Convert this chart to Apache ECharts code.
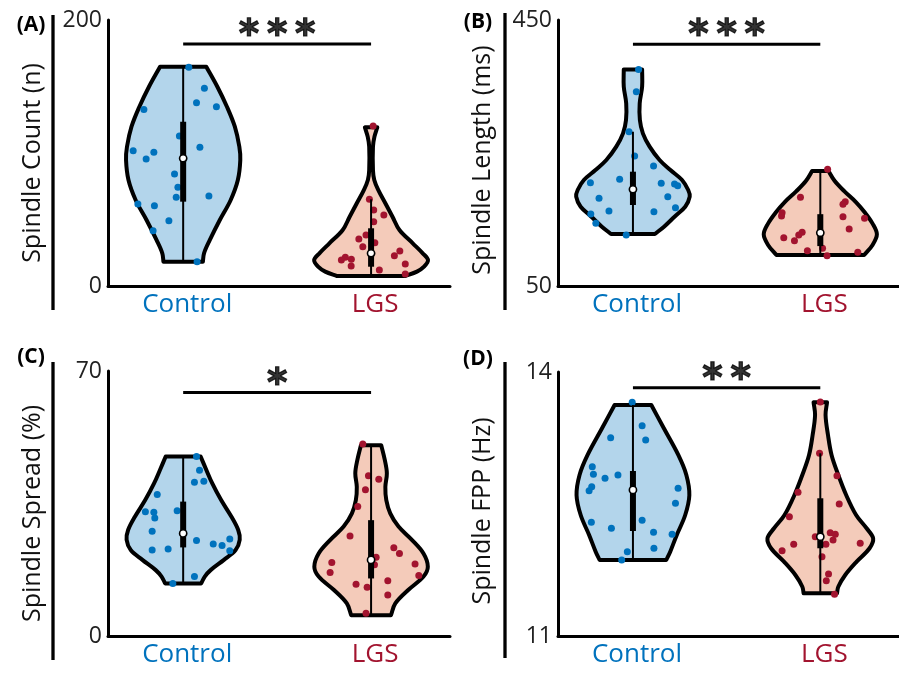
<!DOCTYPE html>
<html>
<head>
<meta charset="utf-8">
<script src="https://cdn.jsdelivr.net/npm/echarts@6/dist/echarts.min.js"></script>
<style>
  html, body { margin: 0; padding: 0; background: #fff; }
  #chart { width: 899px; height: 673px; }
</style>
</head>
<body>
<div id="chart"></div>
<script>
// groups
const groups = ['Control', 'LGS']

// (A) spindle count — violin outline: levels (value) and half widths (category units)
const countCtrlLevels = [164.9, 149.8, 134.8, 119.8, 104.7, 94.7, 79.7, 64.7, 49.6, 34.6, 24.6, 18.3]
const countCtrlHalfW = [0.123, 0.182, 0.233, 0.275, 0.299, 0.304, 0.291, 0.253, 0.195, 0.142, 0.111, 0.105]
const countLgsLevels = [119.3, 112.3, 104.7, 87.2, 79.7, 72.2, 62.2, 52.1, 42.1, 32.1, 24.6, 19.5, 14.5, 10.8, 7.5]
const countLgsHalfW = [0.033, 0.018, 0.010, 0.010, 0.017, 0.038, 0.076, 0.114, 0.151, 0.222, 0.275, 0.303, 0.282, 0.244, 0.181]
// box: whisker low, q1, median, q3, whisker high
const countCtrlBox = [18.3, 63.4, 96, 123.5, 164.9]
const countLgsBox = [7.5, 14.5, 24.6, 43.4, 65.2]
const countCtrlPts = [[1.030, 164.4], [1.113, 148.6], [1.071, 137.8], [1.177, 134.8], [0.791, 132.8], [0.980, 112.8], [1.089, 104.3], [0.734, 101.7], [0.844, 100.5], [0.803, 95.5], [0.954, 84.2], [0.972, 74.2], [0.963, 66.7], [1.137, 67.7], [0.759, 61.7], [0.847, 60.4], [0.924, 49.1], [0.840, 41.6], [1.074, 18.3]]
const countLgsPts = [[2.011, 120.3], [1.991, 65.2], [2.014, 57.1], [2.068, 53.4], [2.014, 48.3], [1.973, 38.3], [1.935, 35.3], [1.956, 29.5], [2.020, 32.6], [2.153, 26.3], [2.124, 22.8], [1.863, 21.6], [1.842, 19.5], [1.895, 20.1], [1.894, 15.0], [2.044, 12.0], [2.182, 16.5], [2.182, 9.0]]

// (B) spindle length
const lengthCtrlLevels = [375.5, 349.7, 324.7, 299.6, 279.6, 259.5, 239.5, 224.4, 209.4, 194.4, 184.3, 169.2, 154.2, 139.2, 128.2]
const lengthCtrlHalfW = [0.049, 0.049, 0.036, 0.037, 0.053, 0.089, 0.142, 0.200, 0.262, 0.295, 0.303, 0.279, 0.222, 0.166, 0.117]
const lengthLgsLevels = [222.9, 208.3, 192.3, 176.2, 160.1, 143.8, 127.7, 111.7, 96.6]
const lengthLgsHalfW = [0.044, 0.076, 0.129, 0.190, 0.239, 0.279, 0.302, 0.279, 0.234]
const lengthCtrlBox = [128.2, 171.8, 195.4, 221.9, 282]
const lengthLgsBox = [96.6, 110, 130, 158, 222.9]
const lengthCtrlPts = [[1.030, 375.5], [1.018, 342.2], [0.979, 282], [1.009, 245.5], [1.110, 230.5], [0.929, 210.4], [0.773, 205.4], [1.151, 204.4], [1.222, 203.4], [1.239, 200.8], [0.819, 181.8], [1.186, 184.3], [0.872, 162.8], [1.112, 161.8], [1.227, 167.8], [0.775, 158.3], [0.802, 144.3], [0.964, 126.7]]
const lengthLgsPts = [[2.039, 225.5], [1.894, 183.4], [2.133, 176.8], [2.121, 172.8], [1.796, 160.2], [1.793, 155.3], [2.121, 154.2], [2.236, 151.8], [2.154, 135.7], [1.903, 130.7], [1.885, 126.7], [1.805, 122.6], [1.862, 118.1], [1.931, 103.1], [2.012, 106.7], [2.036, 95.6], [2.200, 100.6]]

// (C) spindle spread
const spreadCtrlLevels = [47.4, 43.8, 40.3, 35.9, 31.5, 28.0, 25.4, 22.7, 20.1, 17.4, 15.7, 13.9]
const spreadCtrlHalfW = [0.093, 0.124, 0.155, 0.202, 0.257, 0.293, 0.301, 0.279, 0.217, 0.146, 0.115, 0.096]
const spreadLgsLevels = [50.4, 46.5, 43.0, 39.4, 35.9, 32.4, 28.9, 25.4, 21.8, 18.3, 15.7, 12.2, 8.6, 5.5]
const spreadLgsHalfW = [0.054, 0.073, 0.084, 0.076, 0.081, 0.102, 0.146, 0.217, 0.279, 0.302, 0.279, 0.199, 0.129, 0.106]
const spreadCtrlBox = [13.9, 23.4, 27.1, 35.5, 47.4]
const spreadLgsBox = [5.5, 15.2, 20.1, 30.6, 50.4]
const spreadCtrlPts = [[1.071, 47.4], [1.087, 43.8], [1.060, 40.6], [1.110, 40.9], [0.862, 37.4], [0.799, 32.8], [0.844, 32.7], [0.968, 33.1], [0.849, 31.2], [0.835, 27.7], [1.071, 25.2], [1.160, 24.3], [1.207, 23.9], [1.248, 25.6], [0.835, 22.7], [0.920, 23.0], [1.248, 22.5], [1.060, 15.7], [0.945, 13.9]]
const spreadLgsPts = [[1.956, 50.7], [1.986, 42.3], [2.041, 41.4], [1.970, 38.6], [1.929, 34.2], [1.888, 26.4], [2.121, 23.3], [2.151, 21.8], [2.027, 20.8], [2.018, 18.8], [1.791, 19.4], [1.782, 16.8], [2.234, 19.0], [2.254, 16.0], [2.089, 14.6], [1.920, 13.7], [1.979, 12.9], [2.089, 10.8], [1.973, 6.0]]

// (D) spindle FPP
const fppCtrlLevels = [13.625, 13.36, 13.057, 12.83, 12.60, 12.375, 12.148, 11.958, 11.864]
const fppCtrlHalfW = [0.098, 0.165, 0.242, 0.285, 0.301, 0.279, 0.234, 0.199, 0.178]
const fppLgsLevels = [13.656, 13.511, 13.284, 13.057, 12.83, 12.602, 12.375, 12.224, 12.11, 11.997, 11.845, 11.693, 11.56, 11.485]
const fppLgsHalfW = [0.036, 0.028, 0.041, 0.060, 0.096, 0.138, 0.191, 0.247, 0.282, 0.263, 0.194, 0.133, 0.096, 0.089]
const fppCtrlBox = [11.864, 12.193, 12.66, 12.875, 13.625]
const fppLgsBox = [11.485, 11.997, 12.128, 12.565, 13.076]
const fppCtrlPts = [[0.996, 13.656], [1.049, 13.39], [0.881, 13.253], [1.068, 13.227], [0.783, 12.924], [0.789, 12.837], [0.851, 12.792], [0.920, 12.83], [0.780, 12.697], [0.766, 12.651], [1.241, 12.678], [1.227, 12.508], [0.778, 12.292], [0.885, 12.224], [1.049, 12.315], [1.110, 12.178], [1.209, 12.156], [1.112, 11.997], [0.970, 11.958], [0.940, 11.864]]
const fppLgsPts = [[2.0, 13.66], [1.996, 13.076], [2.089, 12.822], [1.881, 12.633], [2.101, 12.5], [1.835, 12.356], [2.053, 12.174], [2.080, 12.156], [1.973, 12.128], [2.068, 12.091], [2.213, 12.053], [1.858, 12.042], [2.030, 12.042], [1.796, 11.97], [2.009, 11.901], [2.044, 11.705], [2.032, 11.629], [2.076, 11.474]]

// axis ranges, titles, significance
const panelLetters = ['(A)', '(B)', '(C)', '(D)']
const yTitles = ['Spindle Count (n)', 'Spindle Length (ms)', 'Spindle Spread (%)', 'Spindle FPP (Hz)']
const yMins = [0, 50, 0, 11]
const yMaxs = [200, 450, 70, 14]
const sigLevels = [182, 413.5, 64.3, 13.82]
const starLevels = [194.7, 439.5, 68.7, 14.01]
const starText = ['***', '***', '*', '**']

const BLUE = '#0072BD'
const RED = '#A2142F'
const BLUE_FILL = '#b3d5eb'
const RED_FILL = '#f4cbba'
const FONT = 'Open Sans'

const grids = [
  { left: 108, top: 20, width: 342, height: 266 },
  { left: 558, top: 20, width: 341, height: 266 },
  { left: 108, top: 371, width: 342, height: 265 },
  { left: 558, top: 372, width: 341, height: 264 },
]

const panelData = [
  [[countCtrlLevels, countCtrlHalfW, countCtrlBox, countCtrlPts], [countLgsLevels, countLgsHalfW, countLgsBox, countLgsPts]],
  [[lengthCtrlLevels, lengthCtrlHalfW, lengthCtrlBox, lengthCtrlPts], [lengthLgsLevels, lengthLgsHalfW, lengthLgsBox, lengthLgsPts]],
  [[spreadCtrlLevels, spreadCtrlHalfW, spreadCtrlBox, spreadCtrlPts], [spreadLgsLevels, spreadLgsHalfW, spreadLgsBox, spreadLgsPts]],
  [[fppCtrlLevels, fppCtrlHalfW, fppCtrlBox, fppCtrlPts], [fppLgsLevels, fppLgsHalfW, fppLgsBox, fppLgsPts]],
]

// violin outline: corners repeated so the flat ends stay sharp while the sides are smoothed
function violinRender(levels, halfW, cx, fill) {
  return (params, api) => {
    if (params.dataIndex !== 0) return
    const n = levels.length
    const right = levels.map((v, k) => api.coord([cx + halfW[k], v]))
    const left = levels.map((v, k) => api.coord([cx - halfW[k], v]))
    const pts = [left[0], right[0], right[0]]
    for (let k = 1; k < n - 1; k++) pts.push(right[k])
    pts.push(right[n - 1], right[n - 1], left[n - 1], left[n - 1])
    for (let k = n - 2; k >= 1; k--) pts.push(left[k])
    pts.push(left[0])
    return {
      type: 'polygon',
      shape: { points: pts, smooth: 0.35 },
      style: { fill, stroke: '#000', lineWidth: 4, lineJoin: 'round' },
    }
  }
}

function boxRender(cx) {
  return (params, api) => {
    const lo = api.coord([cx, api.value(0)])
    const q1 = api.coord([cx, api.value(1)])
    const med = api.coord([cx, api.value(2)])
    const q3 = api.coord([cx, api.value(3)])
    const hi = api.coord([cx, api.value(4)])
    return {
      type: 'group',
      children: [
        { type: 'line', shape: { x1: lo[0], y1: lo[1], x2: hi[0], y2: hi[1] }, style: { stroke: '#000', lineWidth: 2 } },
        { type: 'rect', shape: { x: q3[0] - 3, y: q3[1], width: 6, height: q1[1] - q3[1] }, style: { fill: '#000' } },
        { type: 'circle', shape: { cx: med[0], cy: med[1], r: 3.6 }, style: { fill: '#fff', stroke: '#000', lineWidth: 1.6 } },
      ],
    }
  }
}

const option = {
  backgroundColor: '#fff',
  animation: false,
  grid: grids.map((g) => ({ ...g, outerBoundsMode: 'none', containLabel: false })),
  xAxis: grids.map((g, i) => ({
    type: 'value',
    gridIndex: i,
    min: 0.6,
    max: 2.42,
    axisLine: { show: true, lineStyle: { color: '#000', width: 3 } },
    axisTick: { show: false },
    splitLine: { show: false },
    axisLabel: {
      customValues: [1, 2],
      margin: 6,
      formatter: (v) => (v === 1 ? '{c|' + groups[0] + '}' : '{l|' + groups[1] + '}'),
      rich: {
        c: { color: BLUE, fontSize: 26, fontFamily: FONT, padding: [0, 0, 0, 8] },
        l: { color: RED, fontSize: 26, fontFamily: FONT, padding: [0, 0, 0, 8] },
      },
    },
  })),
  yAxis: grids.map((g, i) => ({
    type: 'value',
    gridIndex: i,
    min: yMins[i],
    max: yMaxs[i],
    name: yTitles[i],
    nameLocation: 'middle',
    nameGap: 63,
    nameTextStyle: { fontSize: 25, fontFamily: FONT, color: '#111', padding: [0, 0, 0, i % 2 === 0 ? -20 : -14] },
    axisLine: { show: true, lineStyle: { color: '#000', width: 3 } },
    axisTick: { show: false },
    splitLine: { show: false },
    axisLabel: {
      customValues: [yMins[i], yMaxs[i]],
      fontSize: 23,
      fontFamily: FONT,
      color: '#222',
      margin: 6,
    },
  })),
  graphic: [],
  series: [],
}

panelData.forEach((pair, i) => {
  pair.forEach(([levels, halfW, box, pts], g) => {
    const cx = g + 1
    option.series.push({
      type: 'custom',
      xAxisIndex: i,
      yAxisIndex: i,
      z: 2,
      silent: true,
      data: levels.map((v, k) => [cx + halfW[k], v]),
      renderItem: violinRender(levels, halfW, cx, g === 0 ? BLUE_FILL : RED_FILL),
    })
    option.series.push({
      type: 'scatter',
      xAxisIndex: i,
      yAxisIndex: i,
      z: 3,
      clip: false,
      symbolSize: 7,
      itemStyle: { color: g === 0 ? BLUE : RED, opacity: 1 },
      data: pts,
    })
    option.series.push({
      type: 'custom',
      xAxisIndex: i,
      yAxisIndex: i,
      z: 4,
      silent: true,
      data: [box],
      renderItem: boxRender(cx),
    })
  })
  // significance bar and stars
  option.series.push({
    type: 'line',
    xAxisIndex: i,
    yAxisIndex: i,
    z: 2,
    symbol: 'none',
    clip: false,
    lineStyle: { color: '#000', width: 3 },
    data: [[1, sigLevels[i]], [2, sigLevels[i]]],
  })
  option.series.push({
    type: 'scatter',
    xAxisIndex: i,
    yAxisIndex: i,
    clip: false,
    symbolSize: 1,
    itemStyle: { color: 'transparent' },
    label: {
      show: true,
      position: 'inside',
      offset: [0, 10],
      formatter: starText[i].split('').join('\u2009'),
      fontSize: 39,
      fontWeight: 'bold',
      fontFamily: 'DejaVu Sans',
      color: '#000',
      textBorderColor: '#000',
      textBorderWidth: 1.2,
    },
    data: [[1.5, starLevels[i]]],
  })
})

// panel letters and the bar to the left of each y title
const letterPos = [[31, 25], [478, 22], [31, 357], [478, 359]]
const barX = [53, 505, 53, 505]
const barY = [[15, 310], [13, 310], [362, 660], [362, 658]]
letterPos.forEach(([x, y], i) => {
  option.graphic.push({
    type: 'text',
    x, y,
    style: { text: panelLetters[i], font: 'bold 21px "Open Sans"', fill: '#000', textAlign: 'center', textVerticalAlign: 'middle' },
  })
  option.graphic.push({
    type: 'line',
    shape: { x1: barX[i], y1: barY[i][0], x2: barX[i], y2: barY[i][1] },
    style: { stroke: '#000', lineWidth: 3.3 },
  })
})

const chart = echarts.init(document.getElementById('chart'), null, { renderer: 'canvas' })
chart.setOption(option)
</script>
</body>
</html>
